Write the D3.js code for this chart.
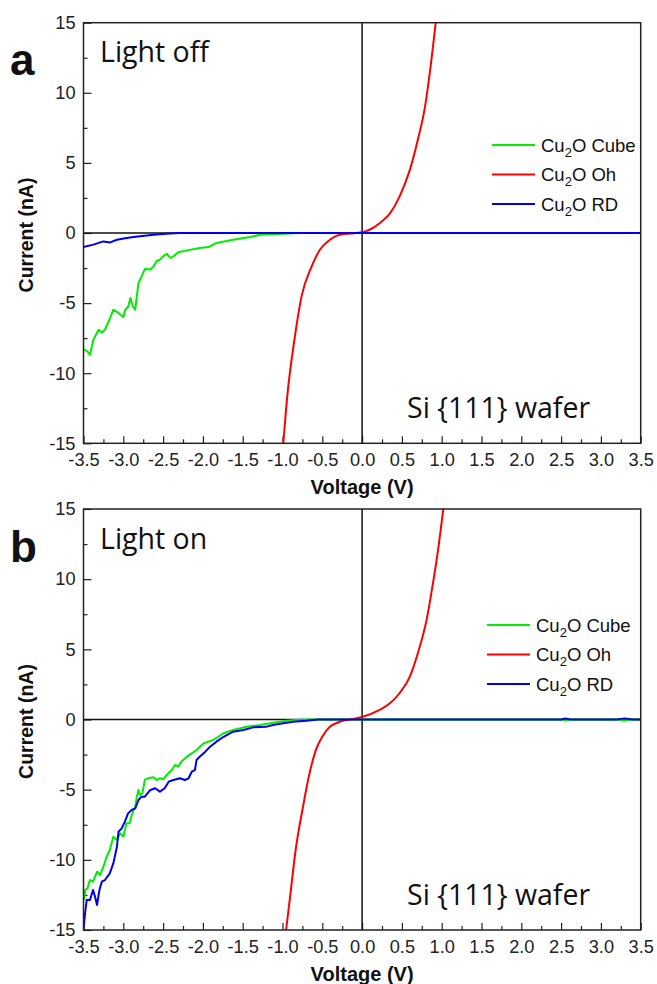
<!DOCTYPE html>
<html>
<head>
<meta charset="UTF-8" />
<script src="https://d3js.org/d3.v7.min.js"></script>
<style>
  body { margin: 0; background: #fff; }
  svg { display: block; }
  .tick text { font-family: "Liberation Sans", Arial, sans-serif; font-size: 18.2px; fill: #222; }
  .domain { display: none; }
  .tick line { stroke: #222; stroke-width: 1.2; }
</style>
</head>
<body>
<svg width="657" height="984"></svg>
<script>
// ---- data: [voltage (V), current (nA)] ----
const xTicks = [-3.5, -3.0, -2.5, -2.0, -1.5, -1.0, -0.5, 0.0, 0.5, 1.0, 1.5, 2.0, 2.5, 3.0, 3.5];
const yTicks = [-15, -10, -5, 0, 5, 10, 15];
const seriesNames = ["Cube", "Oh", "RD"];

// panel a : light off
const offCube = [[-3.5,-8.3],[-3.45,-8.45],[-3.42,-8.7],[-3.375,-7.6],[-3.31,-6.9],[-3.27,-7.1],[-3.23,-6.9],
  [-3.165,-6.06],[-3.125,-5.47],[-3.06,-5.7],[-3.0,-6.0],[-2.975,-5.47],[-2.94,-5.28],[-2.91,-4.64],[-2.88,-5.23],
  [-2.85,-5.47],[-2.83,-4.52],[-2.81,-3.57],[-2.77,-3.1],[-2.73,-2.57],[-2.66,-2.6],[-2.62,-2.38],[-2.58,-2.0],
  [-2.54,-1.9],[-2.5,-1.67],[-2.455,-1.48],[-2.41,-1.78],[-2.37,-1.67],[-2.31,-1.38],[-2.2,-1.24],[-2.04,-1.07],
  [-1.93,-1.0],[-1.83,-0.71],[-1.62,-0.48],[-1.41,-0.29],[-1.28,-0.12],[-0.99,-0.05],[-0.8,0],[3.5,0]];
const offOh = [[-0.99,-15],[-0.94,-11.65],[-0.85,-7.6],[-0.76,-4.5],[-0.635,-2.4],[-0.53,-1.2],[-0.43,-0.6],
  [-0.28,-0.12],[-0.155,-0.04],[0,0.05],[0.1,0.25],[0.22,0.7],[0.35,1.4],[0.47,2.6],[0.6,4.5],[0.7,6.65],
  [0.79,9.0],[0.85,11.4],[0.925,15]];
const offRD = [[-3.5,-1.0],[-3.375,-0.83],[-3.25,-0.6],[-3.165,-0.67],[-3.08,-0.48],[-2.96,-0.36],[-2.87,-0.29],
  [-2.79,-0.24],[-2.62,-0.12],[-2.46,-0.05],[-2.3,0],[3.5,0]];

// panel b : light on
const onCube = [[-3.49,-12.87],[-3.48,-12.15],[-3.45,-12.03],[-3.42,-11.44],[-3.38,-11.56],[-3.33,-10.85],
  [-3.29,-11.08],[-3.25,-10.49],[-3.21,-9.78],[-3.17,-9.3],[-3.125,-8.35],[-3.08,-8.59],[-3.04,-8.11],[-3.0,-8.35],
  [-2.96,-7.4],[-2.92,-7.4],[-2.895,-6.81],[-2.85,-6.21],[-2.83,-5.5],[-2.81,-5.02],[-2.79,-5.38],[-2.76,-5.26],
  [-2.73,-4.31],[-2.69,-4.19],[-2.62,-4.12],[-2.58,-4.31],[-2.54,-4.19],[-2.5,-4.26],[-2.455,-3.96],[-2.39,-3.6],
  [-2.35,-3.24],[-2.31,-3.36],[-2.27,-3.0],[-2.2,-2.65],[-2.14,-2.41],[-2.08,-2.17],[-1.99,-1.7],[-1.87,-1.46],
  [-1.74,-0.98],[-1.62,-0.75],[-1.45,-0.51],[-1.28,-0.39],[-1.12,-0.23],[-0.95,-0.09],[-0.75,0],[2.5,0],
  [2.55,-0.06],[2.62,0],[3.2,0],[3.3,-0.07],[3.4,0],[3.5,0]];
const onOh = [[-0.955,-15],[-0.9,-12.4],[-0.835,-9.3],[-0.75,-6.45],[-0.67,-4.08],[-0.58,-2.17],[-0.5,-1.23],
  [-0.42,-0.6],[-0.28,-0.16],[-0.155,0],[0,0.18],[0.22,0.68],[0.35,1.15],[0.47,1.87],[0.6,3.05],[0.7,4.72],
  [0.81,7.1],[0.89,9.7],[0.955,12.1],[1.02,15]];
const onRD = [[-3.5,-15],[-3.48,-13.8],[-3.46,-12.87],[-3.42,-12.87],[-3.38,-12.15],[-3.355,-12.63],[-3.33,-13.22],
  [-3.3,-12.15],[-3.27,-11.56],[-3.23,-11.44],[-3.17,-10.96],[-3.125,-10.25],[-3.08,-9.07],[-3.06,-8.0],
  [-3.02,-7.76],[-2.98,-7.28],[-2.94,-6.69],[-2.895,-6.45],[-2.85,-6.33],[-2.81,-5.74],[-2.77,-5.5],[-2.73,-5.5],
  [-2.66,-5.02],[-2.6,-4.9],[-2.54,-5.14],[-2.48,-4.9],[-2.43,-4.43],[-2.37,-4.31],[-2.29,-4.19],[-2.225,-4.31],
  [-2.18,-4.19],[-2.14,-3.72],[-2.1,-3.6],[-2.08,-2.89],[-2.04,-2.65],[-1.97,-2.29],[-1.91,-1.94],[-1.83,-1.58],
  [-1.74,-1.23],[-1.62,-0.87],[-1.49,-0.75],[-1.37,-0.56],[-1.2,-0.51],[-1.12,-0.39],[-0.99,-0.27],[-0.865,-0.16],
  [-0.7,-0.09],[-0.55,0],[2.5,0],[2.55,0.07],[2.62,0],[3.2,0],[3.3,0.08],[3.4,0],[3.5,0]];

const colors = { Cube: "#00ee00", Oh: "#ff0000", RD: "#0000ee" };

const panels = [
  { letter: "a", cond: "Light off", top: 22.7, bottom: 443.3, data: { Cube: offCube, Oh: offOh, RD: offRD },
    legendX: 492, legendY: 145 },
  { letter: "b", cond: "Light on", top: 509, bottom: 930, data: { Cube: onCube, Oh: onOh, RD: onRD },
    legendX: 487, legendY: 625 }
];

const svg = d3.select("svg");
const left = 83.5, right = 640.7;

const x = d3.scaleLinear().domain([-3.5, 3.5]).range([left, right]);

panels.forEach((p, idx) => {
  const y = d3.scaleLinear().domain([-15, 15]).range([p.bottom, p.top]);
  const g = svg.append("g");

  const clipId = "clip" + idx;
  svg.append("clipPath").attr("id", clipId).append("rect")
    .attr("x", left).attr("y", p.top).attr("width", right - left).attr("height", p.bottom - p.top);

  // minor ticks
  const xMinor = d3.range(-3.25, 3.5, 0.5);
  const yMinor = [-12.5, -7.5, -2.5, 2.5, 7.5, 12.5];
  g.append("g").attr("transform", `translate(0,${p.bottom})`)
    .call(d3.axisBottom(x).tickValues(xMinor).tickSize(-4).tickFormat(""));
  g.append("g").attr("transform", `translate(${left},0)`)
    .call(d3.axisLeft(y).tickValues(yMinor).tickSize(-4).tickFormat(""));

  // major ticks
  g.append("g").attr("transform", `translate(0,${p.bottom})`)
    .call(d3.axisBottom(x).tickValues(xTicks).tickSize(-7).tickPadding(10).tickFormat(d3.format(".1f")))
    .selectAll("text").text(d => d3.format(".1f")(d).replace("−", "-"));
  g.append("g").attr("transform", `translate(${left},0)`)
    .call(d3.axisLeft(y).tickValues(yTicks).tickSize(-8).tickPadding(8))
    .selectAll("text").text(d => String(d));

  // zero lines
  g.append("line").attr("x1", left).attr("x2", right).attr("y1", y(0)).attr("y2", y(0))
    .attr("stroke", "#111").attr("stroke-width", 1.5);
  g.append("line").attr("x1", x(0)).attr("x2", x(0)).attr("y1", p.top).attr("y2", p.bottom)
    .attr("stroke", "#111").attr("stroke-width", 1.5);

  // curves
  const line = d3.line().x(d => x(d[0])).y(d => y(d[1]));
  const smooth = d3.line().x(d => x(d[0])).y(d => y(d[1])).curve(d3.curveMonotoneX);
  const lines = g.append("g").attr("clip-path", `url(#${clipId})`);
  ["Cube", "Oh", "RD"].forEach(name => {
    lines.append("path").datum(p.data[name])
      .attr("d", name === "Oh" ? smooth : line)
      .attr("fill", "none").attr("stroke", colors[name]).attr("stroke-width", 2)
      .attr("stroke-linejoin", "round");
  });

  // frame
  g.append("rect").attr("x", left).attr("y", p.top).attr("width", right - left).attr("height", p.bottom - p.top)
    .attr("fill", "none").attr("stroke", "#222").attr("stroke-width", 1.5);

  // axis titles
  g.append("text").attr("x", (left + right) / 2).attr("y", p.bottom + 51)
    .attr("text-anchor", "middle").attr("font-family", "Liberation Sans, Arial, sans-serif")
    .attr("font-weight", "bold").attr("font-size", 20).attr("fill", "#111").text("Voltage (V)");
  g.append("text").attr("transform", `translate(33,${(p.top + p.bottom) / 2 + 2}) rotate(-90)`)
    .attr("text-anchor", "middle").attr("font-family", "Liberation Sans, Arial, sans-serif")
    .attr("font-weight", "bold").attr("font-size", 19.5).attr("fill", "#111").text("Current (nA)");

  // panel letter and annotations
  g.append("text").attr("x", 10).attr("y", p.top + 52.5)
    .attr("font-family", "Liberation Sans, Arial, sans-serif").attr("font-weight", "bold")
    .attr("font-size", 44).attr("fill", "#111").text(p.letter);
  g.append("text").attr("x", 100).attr("y", p.top + 39.5)
    .attr("font-family", "Open Sans, sans-serif").attr("font-size", 28.5).attr("fill", "#111").text(p.cond);
  g.append("text").attr("x", 407).attr("y", p.bottom - 25.5)
    .attr("font-family", "Open Sans, sans-serif").attr("font-size", 28.5).attr("fill", "#111").text("Si {111} wafer");

  // legend
  seriesNames.forEach((name, i) => {
    const ly = p.legendY + i * 29.5;
    g.append("line").attr("x1", p.legendX).attr("x2", p.legendX + 43).attr("y1", ly).attr("y2", ly)
      .attr("stroke", colors[name]).attr("stroke-width", 2);
    const t = g.append("text").attr("x", p.legendX + 49).attr("y", ly + 6.5)
      .attr("font-family", "Liberation Sans, Arial, sans-serif").attr("font-size", 18.5).attr("fill", "#111");
    t.append("tspan").text("Cu");
    t.append("tspan").attr("font-size", 13).attr("dy", 5).text("2");
    t.append("tspan").attr("dy", -5).text("O " + name);
  });
});
</script>
</body>
</html>
